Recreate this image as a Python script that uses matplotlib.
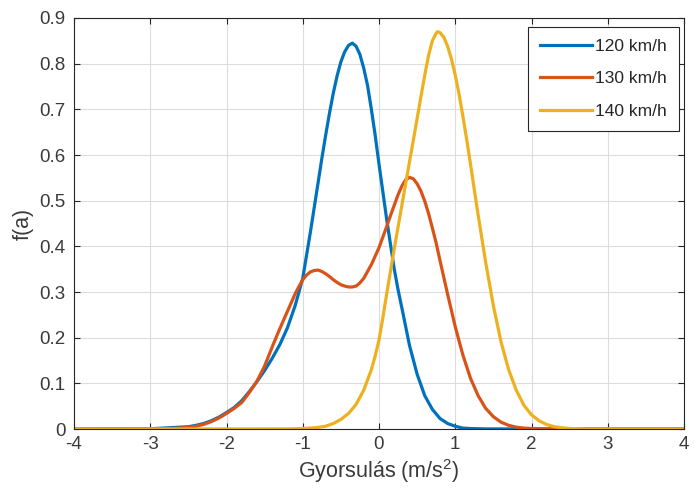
import matplotlib
matplotlib.use("Agg")
import matplotlib.pyplot as plt
from matplotlib.ticker import FormatStrFormatter

plt.rcParams['font.family'] = ['Liberation Sans', 'DejaVu Sans']
plt.rcParams['mathtext.fontset'] = 'custom'
plt.rcParams['mathtext.rm'] = 'Liberation Sans'
plt.rcParams['mathtext.it'] = 'Liberation Sans'
plt.rcParams['axes.unicode_minus'] = False

# density curves f(a), sampled by hand
a_120 = [-4.0, -3.0, -2.5, -2.4, -2.3, -2.2, -2.1, -2.0, -1.9, -1.8, -1.7, -1.6,
         -1.5, -1.4, -1.3, -1.2, -1.1, -1.0, -0.9, -0.8, -0.75, -0.7, -0.65,
         -0.6, -0.55, -0.5, -0.45, -0.4, -0.35, -0.3, -0.25, -0.2, -0.15, -0.1,
         -0.05, 0.0, 0.05, 0.1, 0.15, 0.2, 0.25, 0.3, 0.4, 0.5, 0.6, 0.7, 0.8,
         0.9, 1.0, 1.1, 1.2, 1.4, 4.0]
f_120 = [0.0, 0.0005, 0.005, 0.008, 0.012, 0.018, 0.026, 0.036, 0.047, 0.062,
         0.082, 0.104, 0.128, 0.155, 0.185, 0.222, 0.27, 0.33, 0.431, 0.538,
         0.592, 0.643, 0.691, 0.735, 0.773, 0.804, 0.826, 0.840, 0.845, 0.838,
         0.820, 0.79, 0.752, 0.70, 0.643, 0.58, 0.52, 0.46, 0.405, 0.35, 0.305,
         0.265, 0.183, 0.12, 0.073, 0.043, 0.023, 0.012, 0.006, 0.002, 0.001,
         0.0002, 0.0]

a_130 = [-4.0, -3.0, -2.7, -2.5, -2.4, -2.3, -2.2, -2.1, -2.0, -1.9, -1.8, -1.7,
         -1.6, -1.5, -1.4, -1.3, -1.2, -1.1, -1.05, -1.0, -0.95, -0.9, -0.85,
         -0.8, -0.75, -0.7, -0.65, -0.6, -0.55, -0.5, -0.45, -0.4, -0.35, -0.3,
         -0.25, -0.2, -0.1, 0.0, 0.1, 0.15, 0.2, 0.25, 0.3, 0.35, 0.4, 0.45, 0.5,
         0.55, 0.6, 0.65, 0.7, 0.75, 0.8, 0.9, 1.0, 1.1, 1.2, 1.3, 1.4, 1.5,
         1.6, 1.7, 1.8, 1.9, 2.0, 2.2, 2.5, 4.0]
f_130 = [0.0, 0.0003, 0.0012, 0.0035, 0.006, 0.010, 0.016, 0.024, 0.034, 0.045,
         0.058, 0.080, 0.105, 0.138, 0.18, 0.22, 0.258, 0.296, 0.312, 0.327,
         0.337, 0.344, 0.347, 0.348, 0.345, 0.340, 0.334, 0.327, 0.321, 0.316,
         0.313, 0.311, 0.311, 0.313, 0.320, 0.33, 0.36, 0.397, 0.443, 0.467,
         0.49, 0.513, 0.532, 0.546, 0.551, 0.548, 0.537, 0.521, 0.499, 0.472,
         0.44, 0.407, 0.369, 0.295, 0.224, 0.162, 0.111, 0.073, 0.045, 0.027,
         0.015, 0.008, 0.004, 0.002, 0.001, 0.0003, 0.0, 0.0]

a_140 = [-4.0, -1.2, -1.0, -0.9, -0.8, -0.7, -0.6, -0.5, -0.4, -0.3, -0.2, -0.1,
         -0.05, 0.0, 0.05, 0.1, 0.2, 0.3, 0.4, 0.45, 0.5, 0.55, 0.6, 0.65, 0.7,
         0.75, 0.77, 0.8, 0.85, 0.9, 0.95, 1.0, 1.05, 1.1, 1.15, 1.2, 1.25, 1.3,
         1.4, 1.5, 1.6, 1.7, 1.8, 1.9, 2.0, 2.1, 2.2, 2.3, 2.4, 2.5, 2.7, 4.0]
f_140 = [0.0, 0.0002, 0.001, 0.002, 0.0035, 0.006, 0.012, 0.021, 0.034, 0.054,
         0.085, 0.13, 0.16, 0.195, 0.243, 0.295, 0.395, 0.49, 0.585, 0.632,
         0.68, 0.728, 0.775, 0.818, 0.85, 0.867, 0.87, 0.868, 0.858, 0.838,
         0.81, 0.775, 0.733, 0.685, 0.634, 0.58, 0.524, 0.469, 0.364, 0.27,
         0.191, 0.13, 0.085, 0.052, 0.031, 0.018, 0.0097, 0.005, 0.0025,
         0.0012, 0.0002, 0.0]

labels = ['120 km/h', '130 km/h', '140 km/h']
colors = ['#0072BD', '#D95319', '#EDB120']

x_ticks = [-4, -3, -2, -1, 0, 1, 2, 3, 4]
y_ticks = [0, 0.1, 0.2, 0.3, 0.4, 0.5, 0.6, 0.7, 0.8, 0.9]

fig = plt.figure(figsize=(6.94, 4.94), dpi=100)
ax = fig.add_axes([74 / 694, 1 - 429 / 494, 610 / 694, 411 / 494])

for a, f, lab, c in zip([a_120, a_130, a_140], [f_120, f_130, f_140], labels, colors):
    ax.plot(a, f, color=c, lw=2.3, label=lab, solid_joinstyle='round')

ax.set_xlim(-4, 4)
ax.set_ylim(0, 0.9)
ax.set_xticks(x_ticks)
ax.set_yticks(y_ticks)
ax.yaxis.set_major_formatter(FormatStrFormatter('%g'))
ax.grid(True, color='#dcdcdc', lw=0.8)
ax.set_axisbelow(True)

for s in ax.spines.values():
    s.set_color('#262626')
    s.set_linewidth(0.8)
ax.tick_params(direction='in', length=4.5, width=0.8, color='#262626',
               labelcolor='#3a3a3a', labelsize=13.5, top=True, right=True)
ax.tick_params(axis='x', pad=5)
ax.tick_params(axis='y', pad=6)

ax.set_xlabel('Gyorsulás (m/s$^2$)', fontsize=15.5, color='#3a3a3a', labelpad=3)
ax.set_ylabel('f(a)', fontsize=15.5, color='#3a3a3a', labelpad=4)

leg = ax.legend(loc='upper right', bbox_to_anchor=(0.992, 0.979), fontsize=12.5,
                frameon=True, fancybox=False, framealpha=1, edgecolor='#262626',
                handlelength=3.0, handletextpad=0.2, labelspacing=1.0,
                borderpad=0.7, borderaxespad=0)
leg.get_frame().set_linewidth(0.8)
for t in leg.get_texts():
    t.set_color('#262626')

fig.savefig('out.png', dpi=100)
